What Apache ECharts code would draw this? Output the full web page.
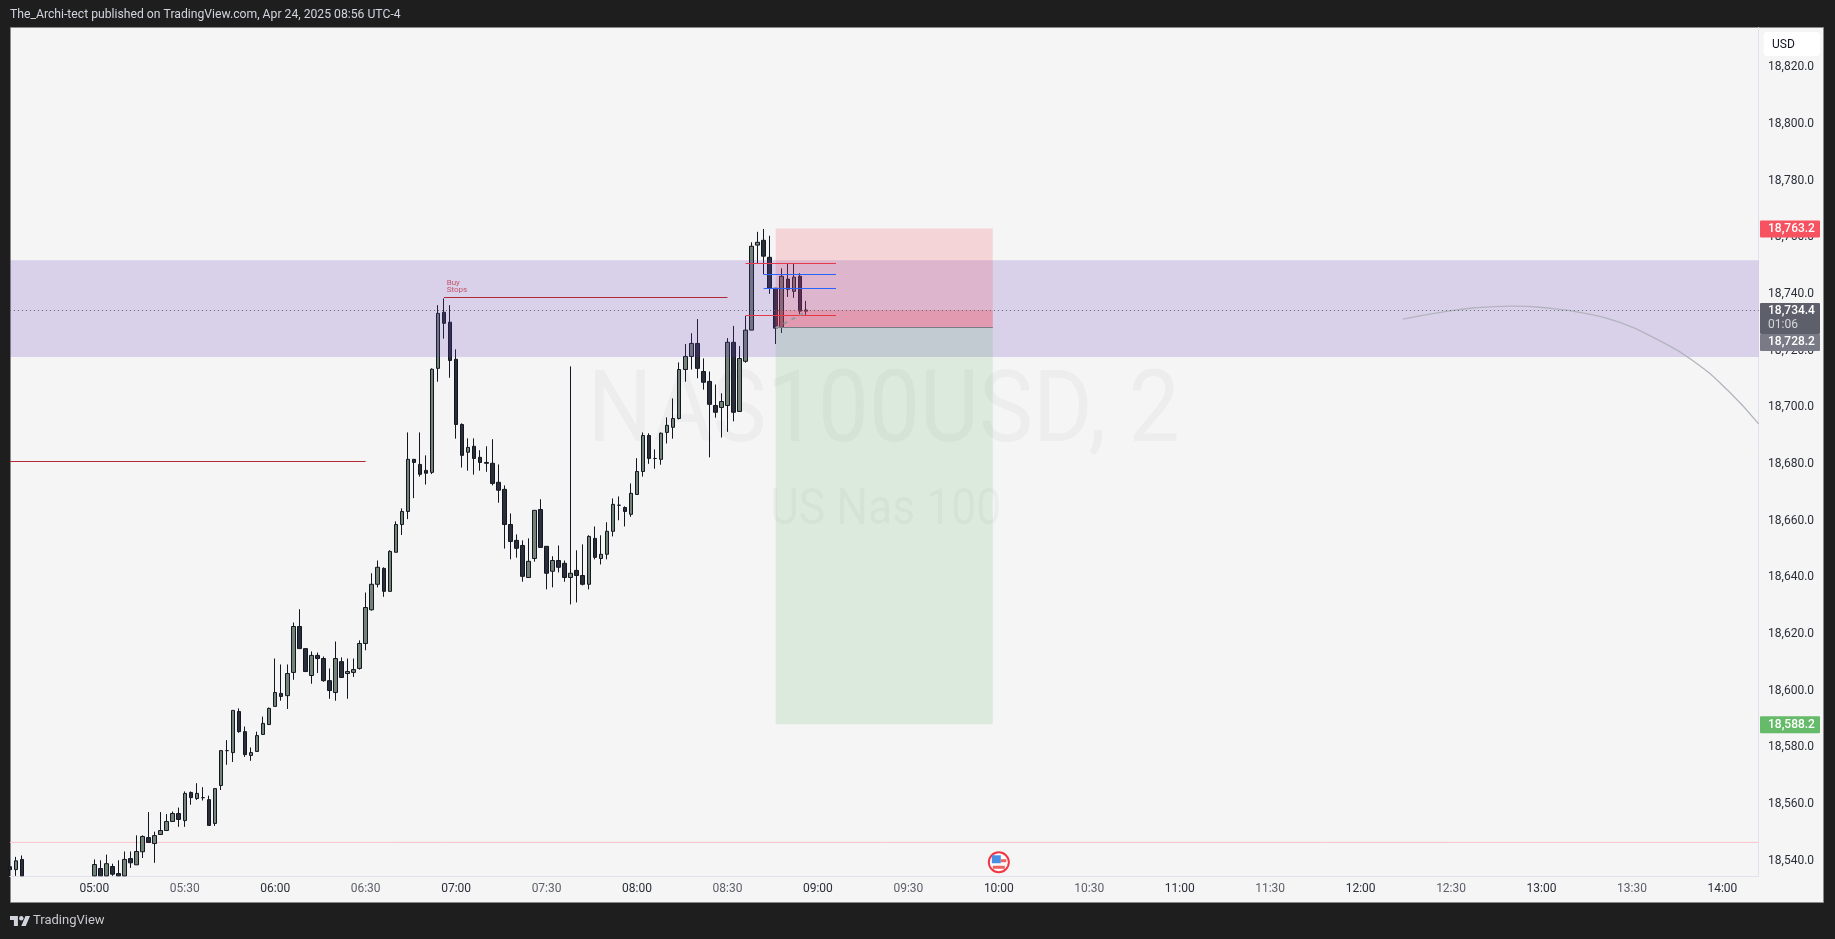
<!DOCTYPE html>
<html><head><meta charset="utf-8">
<style>html,body{margin:0;padding:0;background:#1e1e1e}#c{width:1835px;height:939px}</style>
<script src="https://cdn.jsdelivr.net/npm/echarts@6/dist/echarts.min.js"></script>
</head><body><div id="c"></div>
<script>
// two-minute slots shown on the axis, first and last label
const firstSlotMinutes = 4*60+32, slotCount = 291;
const categories = Array.from({length:slotCount},(_,i)=>{const m=firstSlotMinutes+2*i;return String(Math.floor(m/60)).padStart(2,'0')+':'+String(m%60).padStart(2,'0');});
const tickLabels = ['05:00','05:30','06:00','06:30','07:00','07:30','08:00','08:30','09:00','09:30','10:00','10:30','11:00','11:30','12:00','12:30','13:00','13:30','14:00'];
const priceTicks = [18540,18560,18580,18600,18620,18640,18660,18680,18700,18720,18740,18760,18780,18800,18820];

// [open, close, low, high] 04:32 onward; bars 04:38-04:58 sit below the pane, and 18534.7 is the pane floor
const candlesEarly = [
[18537.9,18536.9,18534.7,18540.5],[18536.9,18540.0,18534.7,18541.4],[18540.5,18534.7,18534.7,18541.9]];
// [open, close, low, high] 05:00 onward
const candlesMain = [
[18534.7,18538.7,18534.7,18540.5],[18537.3,18534.7,18534.7,18540.2],[18534.7,18539.0,18534.7,18542.2],[18538.0,18535.3,18534.7,18539.0],
[18535.5,18534.7,18534.7,18540.2],[18534.7,18540.5,18534.7,18543.3],[18540.8,18539.3,18537.5,18543.3],[18538.6,18543.3,18538.6,18549.0],
[18543.2,18548.6,18541.0,18549.0],[18548.2,18546.5,18546.5,18557.2],[18546.1,18548.9,18539.3,18550.3],[18549.3,18550.7,18549.3,18557.2],
[18550.7,18553.9,18550.7,18556.5],[18553.9,18556.7,18553.9,18557.4],[18556.7,18554.6,18552.0,18558.8],[18554.2,18563.8,18552.0,18564.5],
[18564.1,18562.3,18559.8,18564.5],[18562.0,18563.8,18561.5,18567.4],[18562.3,18562.3,18561.3,18566.0],[18561.6,18552.5,18552.5,18563.0],
[18553.2,18565.5,18552.3,18565.5],[18566.6,18578.9,18565.0,18578.9],[18578.9,18578.9,18573.9,18582.6],[18578.2,18593.1,18574.9,18593.1],
[18592.7,18585.6,18585.2,18593.8],[18585.6,18577.5,18576.7,18587.4],[18577.2,18578.2,18575.3,18580.0],[18578.6,18584.2,18578.6,18585.6],
[18584.6,18588.5,18584.6,18590.9],[18588.1,18593.8,18588.1,18594.1],[18594.5,18599.4,18594.5,18611.4],[18599.1,18598.0,18596.5,18609.3],
[18598.3,18606.1,18593.6,18609.3],[18606.5,18622.7,18603.9,18624.1],[18622.7,18614.9,18614.9,18628.8],[18614.9,18606.8,18606.8,18614.9],
[18605.4,18612.5,18602.5,18613.9],[18612.5,18611.4,18606.3,18613.5],[18611.4,18603.6,18603.2,18612.1],[18603.6,18600.1,18597.2,18607.9],
[18599.4,18611.4,18596.5,18617.4],[18610.3,18604.7,18604.7,18611.8],[18606.1,18606.8,18597.2,18611.4],[18606.5,18607.5,18604.9,18611.4],
[18607.9,18616.7,18607.5,18617.8],[18616.7,18629.4,18614.3,18634.7],[18628.6,18637.6,18628.3,18641.5],[18637.6,18643.6,18636.5,18646.0],
[18643.2,18635.1,18633.2,18643.6],[18635.1,18649.2,18635.1,18649.6],[18648.9,18658.7,18648.9,18659.8],[18658.7,18663.3,18655.0,18664.4],
[18663.3,18681.7,18660.6,18691.2],[18681.7,18680.6,18668.0,18681.7],[18679.9,18676.4,18675.6,18691.2],[18677.8,18676.8,18672.8,18683.1],
[18677.1,18713.5,18676.5,18713.8],[18713.8,18733.2,18709.1,18736.1],[18733.6,18729.7,18724.3,18738.5],[18730.1,18716.6,18710.5,18736.1],
[18717.0,18694.0,18689.0,18720.5],[18694.0,18683.1,18678.8,18694.4],[18684.2,18685.9,18677.7,18689.1],[18686.3,18682.0,18676.3,18689.1],
[18682.4,18680.6,18677.7,18684.9],[18680.6,18680.3,18677.3,18686.3],[18680.3,18673.2,18672.5,18688.8],[18673.6,18670.8,18666.4,18679.9],
[18671.1,18658.7,18650.2,18672.5],[18658.7,18652.7,18646.4,18662.6],[18653.1,18650.3,18647.0,18655.2],[18651.3,18640.4,18638.5,18653.1],
[18640.0,18645.7,18640.0,18653.8],[18646.7,18663.7,18645.6,18663.7],[18664.0,18650.6,18650.6,18667.6],[18651.0,18641.5,18635.8,18651.0],
[18642.2,18646.0,18636.5,18647.5],[18646.0,18643.6,18641.8,18651.3],[18645.0,18640.0,18638.5,18646.0],[18640.0,18641.5,18630.5,18714.5],
[18642.5,18640.7,18631.2,18649.6],[18640.7,18637.6,18637.2,18651.7],[18637.6,18654.5,18635.8,18654.9],[18653.8,18647.1,18646.4,18658.0],
[18646.7,18648.2,18644.6,18654.9],[18648.2,18656.3,18646.4,18659.5],[18656.3,18665.8,18654.5,18667.9],[18665.5,18665.5,18660.2,18668.6],
[18664.7,18663.3,18658.0,18665.1],[18662.3,18669.7,18661.4,18673.2],[18669.3,18677.4,18669.3,18682.1],[18677.4,18690.1,18675.6,18691.2],
[18690.1,18682.0,18680.1,18690.9],[18682.0,18682.0,18678.4,18685.2],[18681.7,18690.9,18679.8,18691.2],[18691.2,18693.7,18687.3,18696.5],
[18693.0,18696.1,18689.0,18703.2],[18696.1,18713.4,18695.8,18715.9],[18713.4,18718.0,18709.1,18722.4],[18718.0,18722.6,18713.4,18726.2],
[18722.6,18713.8,18710.3,18731.2],[18712.7,18708.9,18706.3,18717.3],[18709.2,18701.1,18682.4,18712.7],[18700.7,18698.3,18696.4,18708.1],
[18700.0,18702.1,18689.4,18705.0],[18700.7,18723.0,18691.4,18724.5],[18723.0,18698.3,18695.1,18728.8],[18698.6,18717.3,18698.6,18721.7],
[18716.3,18727.3,18715.8,18732.3],[18727.3,18756.9,18727.3,18758.3],[18757.3,18758.3,18750.9,18762.0],[18759.0,18753.4,18747.0,18763.0],
[18753.0,18742.1,18740.1,18760.6],[18742.1,18728.0,18722.4,18742.1],[18728.3,18746.3,18726.3,18749.1],[18745.3,18741.7,18739.0,18750.7],
[18741.0,18746.0,18738.7,18750.7],[18746.3,18734.0,18732.7,18747.4],[18734.0,18734.4,18732.7,18737.6]];

// levels and boxes drawn over the candles
const zoneBand = [18752.0, 18717.8];
const riskBox = ['08:46','09:58',18763.2,18728.2];
const rewardBox = ['08:46','09:58',18728.2,18588.2];
const lastPrice = 18734.4, entryPrice = 18728.2, pinkLevel = 18546.5;
const buyStops = ['06:56','08:30',18738.9], leftLevel = ['04:32','06:30',18681.0];
const redLevels = [['08:36','09:06',18750.9],['08:36','09:06',18732.5]];
const blueLevels = [['08:42','09:06',18747.0],['08:42','09:06',18742.1]];
const trendDash = [['08:46',18728.0],['08:56',18733.8]];
const arcTimes = ['12:14','12:26','12:38','12:50','13:02','13:14','13:26','13:38','13:50','14:02','14:12'];
const arcPrices = [18731.2,18733.5,18735.2,18735.8,18735.1,18733.3,18730.0,18724.2,18716.7,18705.8,18694.2];
const eventFlag = ['10:00',18539.5];
const tagPrices = [18763.2,18734.4,18728.2,18588.2];
const tagTexts = ['18,763.2','18,734.4','18,728.2','18,588.2'];
const tagSubs = ['','01:06','',''];
const tagFills = ['#f7525f','#5d606b','#787b86','#66bb6a'];
const tagTop = [-8,-7,6.5,-8], tagHeight = [17,31,17,17], tagTextDy=[0.5,1,14,0.5];

const FONT='Roboto, sans-serif', first=categories[0], last=categories[categories.length-1];
const candleData = categories.map((_,i)=> i<3 ? candlesEarly[i] : (i>=14 && i-14<candlesMain.length ? candlesMain[i-14] : '-'));
const seg=(a,b,v,color,w,type)=>[{xAxis:a,yAxis:v,lineStyle:{color,width:w,type:type||'solid'}},{xAxis:b,yAxis:v}];
const chart = echarts.init(document.getElementById('c'),null,{renderer:'canvas'});
chart.setOption({
 animation:false, backgroundColor:'#1e1e1e',
 title:{text:'The_Archi-tect published on TradingView.com, Apr 24, 2025 08:56 UTC-4',left:10,top:9,padding:0,textStyle:{color:'#d1d4dc',fontSize:12.2,fontWeight:'normal',fontFamily:FONT}},
 grid:{left:9.9,right:76.4,top:27.5,bottom:63,containLabel:false},
 xAxis:{type:'category',data:categories,boundaryGap:false,
  axisLine:{show:true,lineStyle:{color:'#e0e3eb',width:1}},axisTick:{show:false},splitLine:{show:false},
  axisLabel:{margin:7,fontSize:12,fontFamily:FONT,hideOverlap:false,
    interval:(i,v)=>tickLabels.includes(v),
    formatter:v=>v.endsWith(':00')?'{h|'+v+'}':'{m|'+v+'}',
    rich:{h:{color:'#2a2e39',fontSize:12,fontFamily:FONT},m:{color:'#5d606b',fontSize:12,fontFamily:FONT}}}},
 yAxis:{type:'value',position:'right',min:18534.65,max:18834.1,scale:true,
  axisLine:{show:true,onZero:false,lineStyle:{color:'#e0e3eb',width:1}},axisTick:{show:false},splitLine:{show:false},
  axisLabel:{customValues:priceTicks,margin:9.5,padding:[3,0,0,0],color:'#2a2e39',fontSize:12,fontFamily:FONT,
    formatter:v=>v.toLocaleString('en-US',{minimumFractionDigits:1,maximumFractionDigits:1})}},
 graphic:[
  {type:'rect',z:-1,silent:true,shape:{x:10.5,y:27.5,width:1813,height:875},style:{fill:'#f5f5f5',stroke:'#8a8a8a',lineWidth:1}},
  {type:'text',z:0,silent:true,x:587.5,y:416,scaleX:0.91,style:{text:'NAS100USD, 2',font:'100px '+FONT,fill:'rgba(19,23,34,0.035)',textAlign:'left',textVerticalAlign:'middle'}},
  {type:'text',z:0,silent:true,x:770,y:511,scaleX:0.89,style:{text:'US Nas 100',font:'50px '+FONT,fill:'rgba(19,23,34,0.035)',textAlign:'left',textVerticalAlign:'middle'}},
  {type:'rect',z:20,silent:true,shape:{x:1763.7,y:32,width:56.3,height:24,r:4},style:{fill:'#ffffff'}},
  {type:'text',z:21,silent:true,x:1772,y:45,style:{text:'USD',font:'12px '+FONT,fill:'#131722',textVerticalAlign:'middle'}},
  {type:'polygon',z:21,silent:true,shape:{points:[[10,916],[17.9,916],[17.9,926],[13.9,926],[13.9,919.9],[10,919.9]]},style:{fill:'#d1d4dc'}},
  {type:'polygon',z:21,silent:true,shape:{points:[[21.3,926],[25.5,916],[30,916],[25.8,926]]},style:{fill:'#d1d4dc'}},
  {type:'circle',z:21,silent:true,shape:{cx:21.3,cy:918.2,r:2.2},style:{fill:'#d1d4dc'}},
  {type:'text',z:21,silent:true,x:33,y:921,style:{text:'TradingView',font:'13px '+FONT,fill:'#c8cad0',textVerticalAlign:'middle'}}
 ],
 series:[
  {type:'candlestick',name:'NAS100USD',data:candleData,barWidth:4,z:2,clip:true,
   itemStyle:{color:'#738476',color0:'#2a2e39',borderColor:'#131722',borderColor0:'#131722',borderWidth:1},
   markArea:{silent:true,z:3,data:[
     [{xAxis:first,yAxis:zoneBand[0],itemStyle:{color:'rgba(103,58,183,0.2)'}},{xAxis:last,yAxis:zoneBand[1]}],
     [{xAxis:riskBox[0],yAxis:riskBox[2],itemStyle:{color:'rgba(242,54,69,0.17)'}},{xAxis:riskBox[1],yAxis:riskBox[3]}],
     [{xAxis:riskBox[0],yAxis:lastPrice,itemStyle:{color:'rgba(242,54,69,0.22)'}},{xAxis:riskBox[1],yAxis:riskBox[3]}],
     [{xAxis:rewardBox[0],yAxis:rewardBox[2],itemStyle:{color:'rgba(76,175,80,0.15)'}},{xAxis:rewardBox[1],yAxis:rewardBox[3]}]
   ]},
   markLine:{silent:true,z:5,symbol:'none',label:{show:false},data:[
     seg(first,last,lastPrice,'#5d606b',1,[1,3]),
     seg(riskBox[0],riskBox[1],entryPrice,'#787b86',1.2),
     seg(buyStops[0],buyStops[1],buyStops[2],'#b22833',1),
     seg(leftLevel[0],leftLevel[1],leftLevel[2],'#b22833',1),
     ...redLevels.map(r=>seg(r[0],r[1],r[2],'#e5394a',1)),
     ...blueLevels.map(r=>seg(r[0],r[1],r[2],'#2962ff',1)),
     [{xAxis:trendDash[0][0],yAxis:trendDash[0][1],lineStyle:{color:'#9598a1',width:2,type:[4,5]}},{xAxis:trendDash[1][0],yAxis:trendDash[1][1]}]
   ]}},
  {type:'line',name:'pink',data:[[first,pinkLevel],[last,pinkLevel]],showSymbol:false,silent:true,z:1,lineStyle:{color:'#f7c5ca',width:1}},
  {type:'line',name:'arc',data:arcTimes.map((t,i)=>[t,arcPrices[i]]),smooth:true,showSymbol:false,silent:true,z:4,lineStyle:{color:'#b2b5be',width:1.3}},
  {type:'custom',name:'note',z:6,silent:true,data:[[buyStops[0],buyStops[2]]],encode:{x:0,y:1},
   renderItem:(p,api)=>{const c=api.coord([api.value(0),api.value(1)]);const st=(t,dy)=>({type:'text',style:{text:t,x:c[0]+2.6,y:c[1]+dy,fill:'#c2566a',font:'8px '+FONT,textVerticalAlign:'middle'}});
     return {type:'group',children:[st('Buy',-14.6),st('Stops',-7.4)]};}},
  {type:'custom',name:'flag',z:6,silent:true,data:[eventFlag],encode:{x:0,y:1},
   renderItem:(p,api)=>{const c=api.coord([api.value(0),api.value(1)]);const r=(x,y,w,h,f)=>({type:'rect',shape:{x:c[0]+x,y:c[1]+y,width:w,height:h},style:{fill:f}});
     return {type:'group',children:[
       {type:'circle',shape:{cx:c[0],cy:c[1],r:10},style:{fill:'#ffffff',stroke:'#f23645',lineWidth:2}},
       r(-7,-7,9,8,'#4a90e2'),r(2,-3,5.5,3,'#f0605f'),r(-6,3.5,12,3,'#f0605f')]};}},
  {type:'custom',name:'tags',z:30,silent:true,clip:false,data:tagPrices.map((v,i)=>[first,v,i]),encode:{x:0,y:1},
   renderItem:(p,api)=>{const y=api.coord([0,api.value(1)])[1],i=api.value(2),x=p.coordSys.x+p.coordSys.width+1.4;
     const ch=[{type:'rect',shape:{x,y:y+tagTop[i],width:60,height:tagHeight[i],r:1},style:{fill:tagFills[i]}},
       {type:'text',style:{text:tagTexts[i],x:x+8,y:y+tagTextDy[i],fill:'#ffffff',font:'500 12px '+FONT,textVerticalAlign:'middle'}}];
     if(tagSubs[i])ch.push({type:'text',style:{text:tagSubs[i],x:x+8,y:y+15,fill:'#d6d7db',font:'12px '+FONT,textVerticalAlign:'middle'}});
     return {type:'group',children:ch};}}
 ]
});
</script></body></html>
